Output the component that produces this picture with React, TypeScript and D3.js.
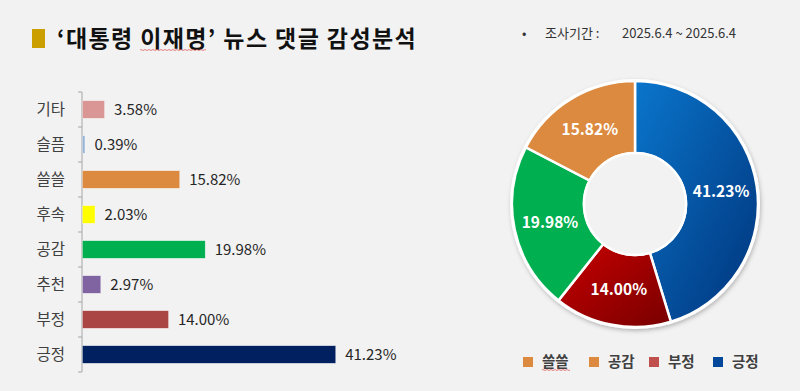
import React from 'react';
import * as d3 from 'd3';

const barCategories = ['기타', '슬픔', '쓸쓸', '후속', '공감', '추천', '부정', '긍정'];
const barValues = [3.58, 0.39, 15.82, 2.03, 19.98, 2.97, 14.00, 41.23];
const barColors = ['#d99694', '#95b3d7', '#dc8a40', '#ffff00', '#00b050', '#8064a2', '#aa4644', '#002060'];

const pieCategories = ['긍정', '부정', '공감', '쓸쓸'];
const pieValues = [41.23, 14.00, 19.98, 15.82];
const pieFills = ['url(#gBlue)', 'url(#gRed)', '#00b050', '#dc8a40'];

const legendLabels = ['쓸쓸', '공감', '부정', '긍정'];
const legendColors = ['#dc8a40', '#dc8a40', '#c0504d', '#00489a'];
const legendX = [523, 589, 649, 713];

const width = 800;
const height = 391;

const font = '"Noto Sans CJK KR", "Noto Sans", sans-serif';

const App: React.FC = () => {
    const axisX = 82;
    const x = d3.scaleLinear().domain([0, 45]).range([axisX, axisX + 45 * 6.14]);
    const y = d3.scaleBand<string>().domain(barCategories).range([92, 372]);
    const step = y.step();

    const cx = 635;
    const cy = 204;
    const outerR = 123;
    const innerR = 51;
    const pie = d3.pie<number>().sort(null).value(d => d);
    const arcs = pie(pieValues);
    const arc = d3.arc<d3.PieArcDatum<number>>().innerRadius(innerR).outerRadius(outerR);
    const labelArc = d3.arc<d3.PieArcDatum<number>>().innerRadius((innerR + outerR) / 2).outerRadius((innerR + outerR) / 2);

    return (
        <svg width={width} height={height} viewBox={`0 0 ${width} ${height}`}
            style={{ position: 'absolute', left: 0, top: 0, fontFamily: font }}>
            <defs>
                <linearGradient id="gBlue" x1="0" y1="0" x2="1" y2="1">
                    <stop offset="0" stopColor="#0a76cc" />
                    <stop offset="1" stopColor="#00337a" />
                </linearGradient>
                <linearGradient id="gRed" x1="0" y1="0" x2="1" y2="1">
                    <stop offset="0" stopColor="#c80000" />
                    <stop offset="1" stopColor="#780000" />
                </linearGradient>
                <filter id="shadow" x="-20%" y="-20%" width="140%" height="140%">
                    <feDropShadow dx="1" dy="2" stdDeviation="2" floodColor="#000" floodOpacity="0.25" />
                </filter>
            </defs>
            <rect x={0} y={0} width={width} height={height} fill="#f2f2f2" />

            {/* title */}
            <rect x={32} y={29} width={13} height={19} fill="#cc9f00" />
            <text x={57} y={47} fontSize={23} fontWeight="bold" letterSpacing={1.4} fill="#111">‘대통령 이재명’ 뉴스 댓글 감성분석</text>
            <path d="M140,50 q1,-1 2,0 t2,0 t2,0 t2,0 t2,0 t2,0 t2,0 t2,0 t2,0 t2,0 t2,0 t2,0 t2,0 t2,0 t2,0 t2,0 t2,0 t2,0 t2,0 t2,0 t2,0 t2,0 t2,0 t2,0 t2,0 t2,0 t2,0 t2,0 t2,0 t2,0 t2,0 t2,0 t2,0"
                fill="none" stroke="#e05050" strokeWidth={0.7} />

            {/* period */}
            <g fontSize={13} fill="#333">
                <text x={522} y={38}>•</text>
                <text x={545} y={38}>조사기간 :</text>
                <text x={622} y={38}>2025.6.4  ~  2025.6.4</text>
            </g>

            {/* bars */}
            <g>
                <line x1={axisX} x2={axisX} y1={92} y2={372} stroke="#a6a6a6" />
                {[...barCategories.map(c => y(c) as number), 372].map((t, i) => (
                    <line key={i} x1={axisX - 4} x2={axisX} y1={t} y2={t} stroke="#a6a6a6" />
                ))}
                {barCategories.map((c, i) => {
                    const top = (y(c) as number) + step * 0.25;
                    return (
                        <g key={c}>
                            <rect x={axisX + 0.5} y={top} width={Math.max(x(barValues[i]) - axisX, 1.5)} height={step * 0.5}
                                fill={barColors[i]} stroke="#ffffff" strokeOpacity={0.5} strokeWidth={0.5} />
                            <text x={65} y={top + step * 0.25} dy="0.35em" textAnchor="end" fontSize={15.5} fill="#404040">{c}</text>
                            <text x={x(barValues[i]) + 10} y={top + step * 0.25} dy="0.35em" fontSize={15} fill="#262626">
                                {barValues[i].toFixed(2)}%
                            </text>
                        </g>
                    );
                })}
            </g>

            {/* donut */}
            <g transform={`translate(${cx},${cy})`}>
                <circle r={outerR + 2} fill="#fff" filter="url(#shadow)" />
                {arcs.map((a, i) => (
                    <path key={pieCategories[i]} d={arc(a) as string} fill={pieFills[i]} stroke="#fff" strokeWidth={2.5} />
                ))}
                <circle r={innerR} fill="#f2f2f2" stroke="#fff" strokeWidth={2.5} />
                {arcs.map((a, i) => {
                    const [lx, ly] = labelArc.centroid(a);
                    return (
                        <text key={i} x={lx} y={ly} dy="0.35em" textAnchor="middle" fontSize={15.5} fontWeight="bold" fill="#fff">
                            {pieValues[i].toFixed(2)}%
                        </text>
                    );
                })}
            </g>

            {/* legend */}
            <g fontSize={14.5} fontWeight="bold" fill="#404040">
                {legendLabels.map((l, i) => (
                    <g key={l}>
                        <rect x={legendX[i]} y={357} width={10} height={10} fill={legendColors[i]} />
                        <text x={legendX[i] + 19} y={362} dy="0.35em">{l}</text>
                    </g>
                ))}
                <path d="M542,370 q1,-1 2,0 t2,0 t2,0 t2,0 t2,0 t2,0 t2,0 t2,0 t2,0 t2,0 t2,0 t2,0 t2,0 t2,0"
                    fill="none" stroke="#e05050" strokeWidth={0.7} />
            </g>
        </svg>
    );
};

export default App;
